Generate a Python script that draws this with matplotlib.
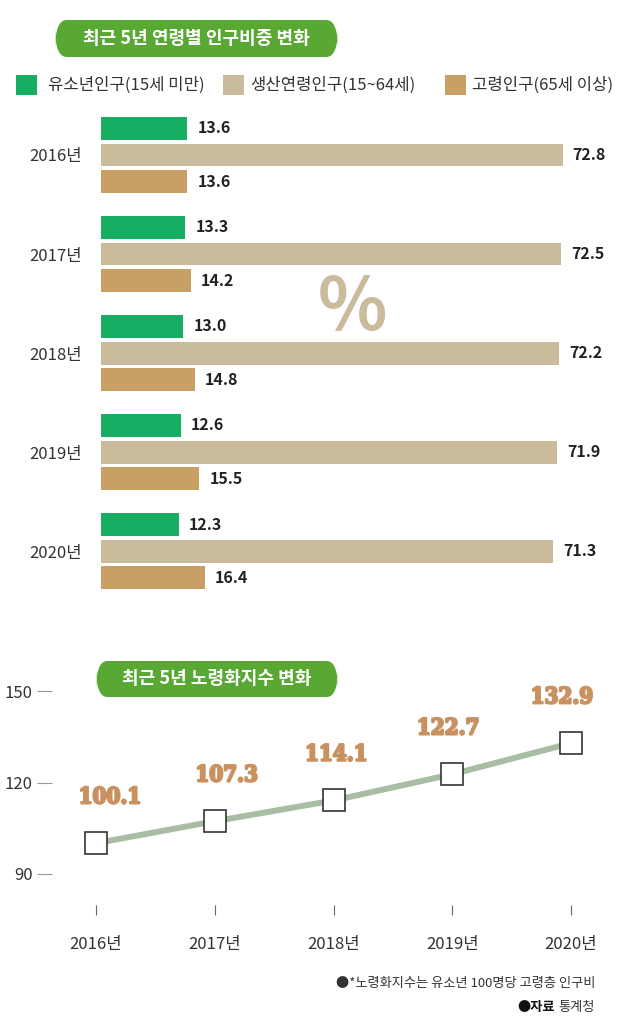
import numpy as np
import matplotlib.pyplot as plt
import matplotlib.patheffects as pe
from matplotlib.patches import Rectangle, FancyBboxPatch

plt.rcParams['font.family'] = ['Noto Sans CJK KR', 'DejaVu Sans']

# data
years = ['2016년', '2017년', '2018년', '2019년', '2020년']
series_names = ['유소년인구(15세 미만)', '생산연령인구(15~64세)', '고령인구(65세 이상)']
youth = [13.6, 13.3, 13.0, 12.6, 12.3]
working = [72.8, 72.5, 72.2, 71.9, 71.3]
elderly = [13.6, 14.2, 14.8, 15.5, 16.4]
aging_index = [100.1, 107.3, 114.1, 122.7, 132.9]
y_ticks = [90, 120, 150]

colors = ['#17ad63', '#c9bb9c', '#c9a063']
pill_green = '#58a833'
label_tan = '#c8915f'
W, H = 640, 1029

fig = plt.figure(figsize=(W / 100, H / 100), dpi=100)


def rect(left, top, right, bottom):
    # pixel box -> figure fraction
    return [left / W, 1 - bottom / H, (right - left) / W, (bottom - top) / H]


def pill(x0, y0, x1, y1, text):
    r = (y1 - y0) / 2
    p = FancyBboxPatch((x0 / W, 1 - y1 / H), (x1 - x0) / W, (y1 - y0) / H,
                       boxstyle='round,pad=0,rounding_size=%f' % (r / H),
                       transform=fig.transFigure, fc=pill_green, ec='none',
                       mutation_aspect=H / W)
    fig.add_artist(p)
    fig.text((x0 + x1) / 2 / W, 1 - (y0 + y1) / 2 / H, text, color='white',
             fontsize=13, fontweight='bold', ha='center', va='center')


# ---- bar chart ----
ax = fig.add_axes(rect(101, 105, 640, 605))
idx = np.arange(len(years))
bh = 0.232
off = 0.268
for k, (vals, c) in enumerate(zip([youth, working, elderly], colors)):
    pos = idx + (k - 1) * off
    ax.barh(pos, vals, height=bh, color=c, edgecolor='none')
    for p, v in zip(pos, vals):
        ax.text(v + 1.6, p, '%.1f' % v, va='center', ha='left',
                fontsize=11.5, fontweight='bold', color='#222222')
ax.set_xlim(0, 539 / 6.34)
ax.set_ylim(4.545, -0.505)
ax.set_yticks(idx)
ax.set_yticklabels(years, fontsize=12, color='#333333')
ax.tick_params(axis='y', length=0, pad=14)
ax.set_xticks([])
for s in ax.spines.values():
    s.set_visible(False)

fig.text(352 / W, 1 - 309 / H, '%', fontsize=52, fontweight='bold',
         color='#c9bb9c', ha='center', va='center')

pill(55, 20, 338, 57, '최근 5년 연령별 인구비중 변화')

# legend
leg_sq = [16, 223, 445]
leg_tx = [48, 250, 472]
for sx, tx, name, c in zip(leg_sq, leg_tx, series_names, colors):
    fig.add_artist(Rectangle((sx / W, 1 - 95 / H), 21 / W, 20 / H,
                             transform=fig.transFigure, fc=c, ec='none'))
    fig.text(tx / W, 1 - 85 / H, name, fontsize=12, color='#333333',
             ha='left', va='center')

# ---- line chart ----
ax2 = fig.add_axes(rect(52, 650, 620, 915))
ax2.plot(idx, aging_index, color='#a9bca4', lw=4.3, solid_capstyle='butt', zorder=2)
ax2.plot(idx, aging_index, ls='none', marker='s', ms=16.5, mfc='white',
         mec='#333333', mew=1.2, zorder=3)
dx = [14, 12, 3, -4, -9]
for i, v in enumerate(aging_index):
    ax2.annotate('%.1f' % v, (i, v), xytext=(dx[i] * 0.72, 33),
                 textcoords='offset points', ha='center', va='center',
                 fontsize=16, fontweight='bold', color=label_tan,
                 family='DejaVu Serif', fontstretch='condensed',
                 path_effects=[pe.withStroke(linewidth=1.6, foreground=label_tan)])
ax2.set_xlim(-44 / 118.75, 524 / 118.75)
ax2.set_ylim(90 - 41 / 3.05, 90 + 224 / 3.05)
ax2.set_yticks(y_ticks)
ax2.set_yticklabels([str(t) for t in y_ticks], fontsize=12, color='#333333')
ax2.set_xticks(idx)
ax2.set_xticklabels(years, fontsize=12, color='#333333')
ax2.tick_params(axis='y', length=10.8, width=0.8, color='#999999', pad=3)
ax2.tick_params(axis='x', direction='in', length=7.2, width=0.8,
                color='#666666', pad=15)
for s in ax2.spines.values():
    s.set_visible(False)

pill(96, 661, 338, 697, '최근 5년 노령화지수 변화')

# notes
fig.text(595 / W, 1 - 983 / H, '●*노령화지수는 유소년 100명당 고령층 인구비',
         fontsize=9.5, color='#333333', ha='right', va='center')
fig.text(595 / W, 1 - 1007 / H, '통계청', fontsize=9.5, color='#333333',
         ha='right', va='center')
fig.text(555 / W, 1 - 1007 / H, '●자료', fontsize=9.5, color='#111111',
         fontweight='bold', ha='right', va='center')

fig.savefig('out.png', dpi=100)
